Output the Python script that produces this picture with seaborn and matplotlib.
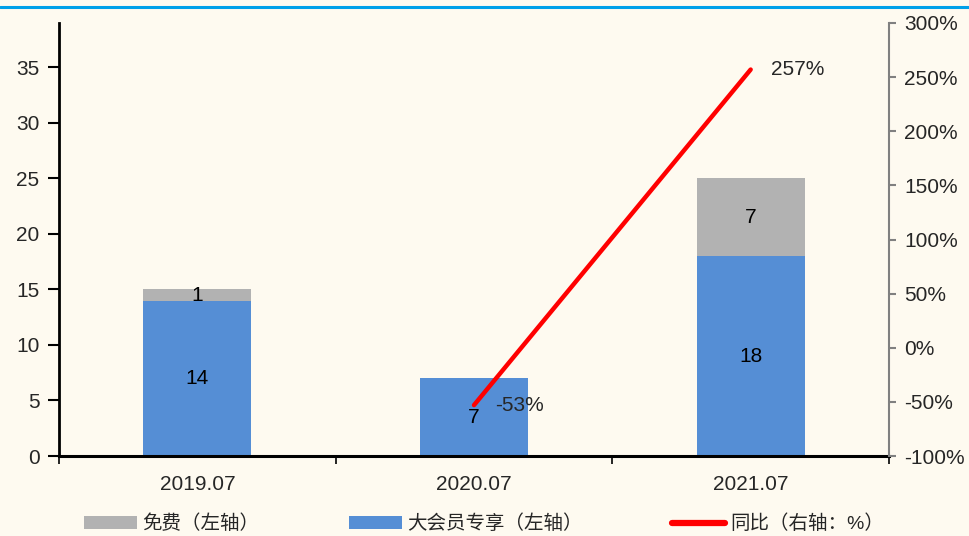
import numpy as np
import pandas as pd
import matplotlib
matplotlib.use("Agg")
import matplotlib.pyplot as plt
import seaborn as sns
from matplotlib.lines import Line2D
from matplotlib.patches import Patch

# 数据
categories = ["2019.07", "2020.07", "2021.07"]
vip_only = [14, 7, 18]          # 大会员专享（左轴）
free = [1, 0, 7]                # 免费（左轴）
yoy = [np.nan, -53, 257]        # 同比（右轴：%）

BG = "#FEFAF0"
BLUE = "#558ED5"
GREY = "#B2B2B2"
RED = "#FF0000"

sns.set_theme(style="white")
plt.rcParams["font.family"] = ["Liberation Sans", "Noto Sans CJK SC", "DejaVu Sans"]

df = pd.DataFrame({"period": categories, "vip": vip_only, "free": free, "yoy": yoy})
df["total"] = df["vip"] + df["free"]
df["pos"] = np.arange(len(df))

fig = plt.figure(figsize=(9.69, 5.36), dpi=100, facecolor=BG)
ax = fig.add_axes([59 / 969, 80 / 536, 830 / 969, 433 / 536])
ax.set_facecolor(BG)

# 堆叠柱：先画总量（灰），再画大会员（蓝）
sns.barplot(data=df, x="period", y="total", order=categories, color=GREY,
            width=0.39, saturation=1, ax=ax, edgecolor="none")
sns.barplot(data=df, x="period", y="vip", order=categories, color=BLUE,
            width=0.39, saturation=1, ax=ax, edgecolor="none")

ax.set_xlim(-0.5, 2.5)
ax.set_ylim(0, 39)
ax.set_yticks(range(0, 40, 5))
ax.set_xlabel("")
ax.set_ylabel("")

# x 轴：刻度线在分类边界，标签在中间
ax.set_xticks(np.arange(-0.5, 3, 1))
ax.set_xticklabels([])
ax.set_xticks(df["pos"], minor=True)
ax.set_xticklabels(categories, minor=True)
ax.tick_params(axis="x", which="major", direction="out", length=6, width=1.2, color="black", bottom=True)
ax.tick_params(axis="x", which="minor", length=0, pad=14, labelsize=15)
ax.tick_params(axis="y", direction="out", length=8, width=1.5, color="black", left=True, labelsize=15, pad=6)

for side in ["top", "right"]:
    ax.spines[side].set_visible(False)
ax.spines["left"].set_color("black")
ax.spines["left"].set_linewidth(2)
ax.spines["bottom"].set_color("black")
ax.spines["bottom"].set_linewidth(2.2)

# 柱内数值
for _, r in df.iterrows():
    ax.text(r["pos"], r["vip"] / 2, f"{r['vip']:d}", ha="center", va="center", fontsize=15, color="black")
    if r["free"] > 0:
        ax.text(r["pos"], r["vip"] + r["free"] / 2, f"{r['free']:d}", ha="center", va="center",
                fontsize=15, color="black")

# 右轴：同比
ax2 = ax.twinx()
ax2.set_ylim(-100, 300)
ax2.set_yticks(range(-100, 301, 50))
ax2.set_yticklabels([f"{v}%" for v in range(-100, 301, 50)])
ax2.plot(df["pos"], df["yoy"], color=RED, lw=3.2, solid_capstyle="round")
for _, r in df.dropna(subset=["yoy"]).iterrows():
    ax2.annotate(f"{r['yoy']:.0f}%", (r["pos"], r["yoy"]), xytext=(15, 0),
                 textcoords="offset points", ha="left", va="center", fontsize=15)
for side in ["top", "left", "bottom"]:
    ax2.spines[side].set_visible(False)
ax2.spines["right"].set_color("#808080")
ax2.spines["right"].set_linewidth(1.5)
ax2.tick_params(axis="y", direction="out", length=5, width=1.5, color="#808080", right=True,
                labelsize=15, pad=6)

# 顶部蓝线
fig.add_artist(Line2D([0, 1], [1 - 6.5 / 536, 1 - 6.5 / 536], color="#00A0E9", lw=2.2,
                      transform=fig.transFigure))

handles = [Patch(facecolor=GREY, edgecolor="none"),
           Patch(facecolor=BLUE, edgecolor="none"),
           Line2D([], [], color=RED, lw=4.5, solid_capstyle="round")]
labels = ["免费（左轴）", "大会员专享（左轴）", "同比（右轴：%）"]
fig.legend(handles, labels, loc="center", bbox_to_anchor=(0.5, 12 / 536), ncol=3, frameon=False,
           fontsize=14, handlelength=2.7, handleheight=0.6, handletextpad=0.3, columnspacing=4.6)

fig.savefig("out.png", dpi=100, facecolor=BG)
